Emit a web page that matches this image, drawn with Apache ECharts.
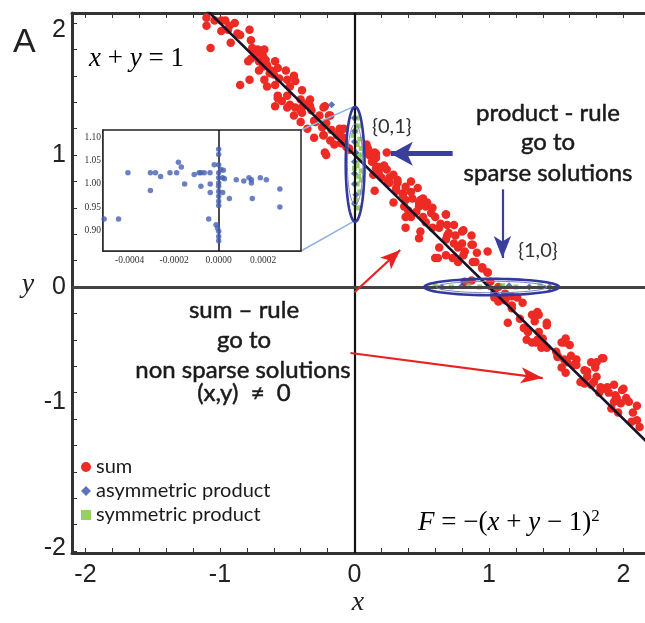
<!DOCTYPE html>
<html>
<head>
<meta charset="utf-8">
<script src="https://cdn.jsdelivr.net/npm/echarts@6/dist/echarts.min.js"></script>
<style>
  html, body { margin: 0; padding: 0; background: #fff; }
  #main { width: 645px; height: 623px; }
</style>
</head>
<body>
<div id="main"></div>
<script>
// sum rule solutions (red)
var sumPts = [
  [-1.10, 2.04], [-1.10, 1.98], [-1.04, 2.02], [-0.99, 2.02], [-0.96, 2.02], [-0.93, 1.98], [-0.89, 2.00],
  [-0.99, 1.94], [-0.94, 1.95], [-0.87, 1.92], [-0.85, 1.91], [-0.78, 1.95], [-0.77, 1.87], [-0.92, 1.85],
  [-1.07, 1.81], [-0.76, 1.81], [-0.74, 1.79], [-0.72, 1.80], [-0.70, 1.79], [-0.68, 1.75], [-0.79, 1.71],
  [-0.71, 1.71], [-0.66, 1.72], [-0.65, 1.68], [-0.59, 1.71], [-0.57, 1.66], [-0.71, 1.64], [-0.63, 1.62],
  [-0.60, 1.61], [-0.51, 1.64], [-0.67, 1.57], [-0.78, 1.57], [-0.85, 1.53], [-0.65, 1.52], [-0.59, 1.53],
  [-0.50, 1.57], [-0.45, 1.60], [-0.44, 1.56], [-0.48, 1.52], [-0.39, 1.49], [-0.57, 1.45], [-0.50, 1.45],
  [-0.54, 1.41], [-0.59, 1.37], [-0.48, 1.38], [-0.44, 1.36], [-0.39, 1.36], [-0.33, 1.42], [-0.33, 1.37],
  [-0.32, 1.34], [-0.22, 1.37], [-0.18, 1.30], [-0.74, 1.76], [-0.67, 1.80], [-0.77, 1.73], [-0.68, 1.67],
  [-0.62, 1.64], [-0.56, 1.58], [-0.40, 1.42], [-0.35, 1.39], [-0.39, 1.32], [-0.26, 1.30], [-0.23, 1.36],
  [-0.19, 1.30], [-0.29, 1.25], [-0.24, 1.21], [-0.21, 1.24], [-0.17, 1.19], [-0.13, 1.15], [-0.11, 1.20],
  [-0.23, 1.15], [-0.18, 1.11], [-0.22, 1.02], [-0.08, 1.10], [-0.06, 1.06], [-0.04, 1.05], [0.10, 1.02],
  [0.16, 1.01], [0.14, 0.95], [0.22, 0.91], [0.18, 0.87], [0.29, 0.85], [0.25, 0.80], [0.32, 0.79],
  [0.31, 0.73], [0.36, 0.71], [0.38, 0.66], [0.37, 0.61], [0.40, 0.58], [0.38, 0.53], [0.42, 0.53],
  [-0.11, 1.17], [-0.08, 1.13], [-0.10, 1.09], [-0.04, 1.04], [0.11, 1.00], [0.15, 1.02], [0.16, 0.98],
  [0.13, 0.95], [0.22, 0.92], [0.16, 0.90], [0.24, 0.89], [0.14, 0.85], [0.20, 0.83], [0.32, 0.81],
  [0.26, 0.79], [0.31, 0.75], [0.38, 0.76], [0.42, 0.72], [0.47, 0.75], [0.43, 0.67], [0.49, 0.66],
  [0.48, 0.61], [0.54, 0.64], [-0.08, 1.20], [0.10, 1.05], [0.48, 0.64], [0.53, 0.61], [0.57, 0.56],
  [0.51, 0.53], [0.60, 0.53], [0.68, 0.55], [0.64, 0.48], [0.49, 0.42], [0.58, 0.45], [0.69, 0.47],
  [0.70, 0.41], [0.75, 0.39], [0.81, 0.43], [0.68, 0.36], [0.74, 0.33], [0.63, 0.30], [0.80, 0.33],
  [0.88, 0.32], [0.82, 0.27], [0.91, 0.26], [0.73, 0.22], [0.60, 0.22], [0.77, 0.19], [0.88, 0.19],
  [0.99, 0.27], [0.95, 0.15], [0.99, 0.11], [1.01, 0.04], [1.07, 0.00], [1.04, -0.04], [1.12, -0.05],
  [1.17, -0.07], [1.21, -0.08], [0.87, 0.05], [0.82, 0.04], [1.07, -0.08], [1.12, -0.10], [1.25, -0.12],
  [1.17, -0.14], [1.36, -0.19], [1.36, -0.21], [1.23, -0.24], [1.34, -0.26], [1.43, -0.27], [1.26, -0.31],
  [1.29, -0.34], [1.28, -0.40], [1.36, -0.40], [1.40, -0.39], [1.35, -0.42], [1.41, -0.44], [1.43, -0.46],
  [1.57, -0.39], [1.54, -0.42], [1.60, -0.44], [1.50, -0.49], [1.51, -0.53], [1.56, -0.55], [1.61, -0.52],
  [1.65, -0.55], [1.54, -0.61], [1.57, -0.65], [1.63, -0.59], [1.76, -0.57], [1.84, -0.54], [1.79, -0.61],
  [1.71, -0.63], [1.73, -0.68], [1.68, -0.72], [1.71, -0.73], [1.80, -0.68], [1.78, -0.72], [1.83, -0.76],
  [1.82, -0.80], [1.88, -0.76], [1.89, -0.80], [1.94, -0.82], [1.99, -0.78], [2.02, -0.84], [1.93, -0.87],
  [1.98, -0.88], [1.91, -0.92], [1.96, -0.95], [2.04, -0.87], [2.07, -0.95], [2.10, -1.01], [2.06, -1.02],
  [2.10, -0.90], [2.12, -1.06],
  [0.15, 0.98], [0.18, 0.91], [0.24, 1.02], [0.26, 0.83], [0.29, 0.64], [0.36, 0.70], [0.38, 0.45],
  [0.42, 0.80], [0.46, 0.57], [0.51, 0.67], [0.53, 0.49], [0.58, 0.60], [0.63, 0.45], [0.68, 0.55],
  [0.69, 0.39], [0.74, 0.47], [0.80, 0.42], [0.77, 0.30], [0.81, 0.24], [0.87, 0.32], [0.90, 0.19],
  [0.95, 0.14], [0.99, 0.11], [0.62, 0.22], [0.68, 0.24], [0.87, 0.39], [0.09, 1.08], [0.15, 0.73],
  [0.48, 0.37], [1.04, -0.08], [1.07, -0.11], [1.17, -0.16], [1.14, -0.27], [1.26, -0.31], [1.32, -0.21],
  [1.37, -0.21], [1.37, -0.34], [1.43, -0.29], [1.32, -0.42], [1.39, -0.46], [1.51, -0.52], [1.56, -0.42],
  [1.58, -0.57], [1.65, -0.59], [1.73, -0.64], [1.80, -0.57], [1.85, -0.54], [1.76, -0.74], [1.85, -0.77],
  [1.93, -0.74], [2.00, -0.77], [1.95, -0.84], [-0.57, 1.43], [-0.50, 1.36], [-0.45, 1.30], [-0.40, 1.25],
  [-0.35, 1.20], [-0.30, 1.13], [-0.21, 1.00], [-0.15, 1.08], [-0.11, 1.15], [-0.23, 1.15], [-0.30, 1.26],
  [-0.40, 1.34]
];

// asymmetric product solutions (blue)
var asymPts = [
  [-0.17, 1.38], [0.00, 1.28], [0.00, 1.18], [0.00, 1.10], [0.01, 1.02], [0.00, 0.95], [0.00, 0.86],
  [0.00, 0.78], [0.01, 0.70], [0.00, 0.63], [0.65, 0.00], [0.80, 0.01], [1.00, 0.00], [1.15, 0.01],
  [1.30, 0.00], [1.45, 0.00]
];

// symmetric product solutions (green)
var symPts = [
  [0.02, 1.28], [0.03, 1.22], [0.01, 1.18], [0.04, 1.12], [0.02, 1.08], [0.05, 1.05], [0.03, 1.00],
  [0.04, 0.96], [0.02, 0.92], [0.05, 0.88], [0.03, 0.84], [0.02, 0.78], [0.04, 0.72], [0.01, 0.66],
  [0.03, 0.60], [-0.01, 1.15], [0.00, 0.90], [0.06, 1.00], [0.05, 0.81],
  [0.60, 0.01], [0.72, 0.00], [0.85, 0.01], [0.93, 0.00], [1.10, 0.01], [1.20, 0.00], [1.38, 0.01]
];

// inset: zoom around {0,1}
var insetPts = [
  [-0.000515, 0.925], [-0.00045, 0.925], [-0.000408, 1.024], [-0.000307, 1.024], [-0.000284, 1.024],
  [-0.000261, 1.016], [-0.000307, 0.986], [-0.000219, 1.024], [-0.000189, 1.024], [-0.000181, 1.046],
  [-0.000168, 1.036], [-0.000153, 1.000], [-0.00011, 1.020], [-0.000088, 1.024], [-0.00008, 1.024],
  [-0.00008, 0.995], [-0.000065, 1.024], [-0.000039, 1.024], [-0.000038, 1.000], [-0.000038, 0.982],
  [-0.000045, 0.925], [-0.00002, 1.041], [-0.000012, 0.913], [-0.000005, 0.906],
  [0, 1.074], [0, 1.063], [0, 1.041], [0, 1.024], [0, 1.013], [0, 1.002], [0, 0.995], [0, 0.984],
  [0, 0.974], [0, 0.963], [0, 0.954], [0, 0.899], [0, 0.888], [0, 0.879],
  [0.00001, 1.031], [0.000018, 1.013], [0.000018, 0.982], [0.000021, 1.029], [0.000026, 1.011],
  [0.000048, 0.969], [0.000079, 1.009], [0.000113, 1.006], [0.000136, 1.013], [0.000147, 1.009],
  [0.000151, 0.969], [0.000147, 1.002], [0.000187, 1.013], [0.000214, 1.009], [0.000275, 0.989],
  [0.000275, 0.951]
];

// the line x + y = 1
var lineX = [-1.16, 2.18];
var lineY = [2.16, -1.18];

// ticks (the y labels sit a little off their ticks in the original figure)
var xLabels = [-2, -1, 0, 1, 2];
var yLabelPos = [-1.98, -0.87, 0, 1, 1.95];
var xMinor = [-2, -1.8, -1.6, -1.4, -1.2, -1, -0.8, -0.6, -0.4, -0.2, 0, 0.2, 0.4, 0.6, 0.8, 1, 1.2, 1.4, 1.6, 1.8, 2];
var yMinor = [-2, -1.8, -1.6, -1.4, -1.2, -1, -0.8, -0.6, -0.4, -0.2, 0, 0.2, 0.4, 0.6, 0.8, 1, 1.2, 1.4, 1.6, 1.8, 2];
var insetXLabels = [-0.0004, -0.0002, 0, 0.0002];
var insetYLabels = [0.90, 0.95, 1.00, 1.05, 1.10];

// ellipses around {0,1} and {1,0}: [cx, cy, rx, ry]
var ellipses = [[0.005, 0.93, 0.07, 0.435], [1.02, 0.0, 0.5, 0.062]];

var chart = echarts.init(document.getElementById('main'), null, { renderer: 'canvas' });

var SANS = 'Liberation Sans';
var SERIF = 'Liberation Serif';
var noteFont = 'Lato';

function lineData() {
  return lineX.map(function (x, i) { return [x, lineY[i]]; });
}

function ellipseItem(params, api) {
  var c = api.coord([api.value(0), api.value(1)]);
  var s = api.size([api.value(2), api.value(3)]);
  var outer = [], inner = [];
  for (var k = 0; k <= 72; k++) {
    var a = k / 72 * Math.PI * 2;
    outer.push([c[0] + s[0] * Math.cos(a), c[1] + s[1] * Math.sin(a)]);
    inner.push([c[0] + s[0] * 0.82 * Math.cos(a), c[1] + s[1] * 0.7 * Math.sin(a)]);
  }
  return {
    type: 'group',
    children: [
      { type: 'polyline', shape: { points: outer }, style: { stroke: '#33399a', lineWidth: 2.6, fill: null } },
      { type: 'polyline', shape: { points: inner }, style: { stroke: '#7a82c8', lineWidth: 1, fill: null } }
    ]
  };
}

var axisLbl = { fontSize: 25, color: '#222', fontFamily: SANS };

var option = {
  animation: false,
  backgroundColor: '#fff',
  grid: [
    { left: 72, top: 13, width: 580, height: 540, show: false },
    { left: 103, top: 130, width: 198, height: 121, show: true, backgroundColor: '#fff', borderColor: '#222', borderWidth: 1.5, z: 5 }
  ],
  xAxis: [
    {
      type: 'value', gridIndex: 0, min: -2.1, max: 2.16, position: 'bottom',
      axisLine: { show: true, onZero: false, lineStyle: { color: '#333', width: 3 } },
      axisTick: { show: true, inside: true, length: 5, customValues: xMinor, lineStyle: { color: '#333' } },
      axisLabel: Object.assign({ customValues: xLabels, margin: 10 }, axisLbl),
      splitLine: { show: false }
    },
    {
      type: 'value', gridIndex: 0, min: -2.1, max: 2.16, position: 'top',
      axisLine: { show: true, onZero: false, lineStyle: { color: '#333', width: 3 } },
      axisTick: { show: true, inside: true, length: 5, customValues: xMinor, lineStyle: { color: '#333' } },
      axisLabel: { show: false },
      splitLine: { show: false }
    },
    {
      type: 'value', gridIndex: 1, min: -0.00052, max: 0.00037,
      axisLine: { show: true, onZero: false, lineStyle: { color: '#222', width: 1.5 } },
      axisTick: { show: true, inside: true, length: 3, customValues: insetXLabels, lineStyle: { color: '#222' } },
      axisLabel: {
        customValues: insetXLabels, fontSize: 9.5, color: '#333', fontFamily: SERIF, margin: 4,
        formatter: function (v) { return v.toFixed(4); }
      },
      splitLine: { show: false }
    }
  ],
  yAxis: [
    {
      type: 'value', gridIndex: 0, min: -2.015, max: 2.076, position: 'left',
      axisLine: { show: true, onZero: false, lineStyle: { color: '#333', width: 3 } },
      axisTick: { show: true, inside: true, length: 5, customValues: yMinor, lineStyle: { color: '#333' } },
      axisLabel: Object.assign({
        customValues: yLabelPos, margin: 6,
        formatter: function (v) { return String(Math.round(v)); }
      }, axisLbl),
      splitLine: { show: false }
    },
    {
      type: 'value', gridIndex: 1, min: 0.857, max: 1.115,
      axisLine: { show: true, onZero: false, lineStyle: { color: '#222', width: 1.5 } },
      axisTick: { show: true, inside: true, length: 3, customValues: insetYLabels, lineStyle: { color: '#222' } },
      axisLabel: {
        customValues: insetYLabels, fontSize: 9.5, color: '#333', fontFamily: SERIF, margin: 2,
        formatter: function (v) { return v.toFixed(2); }
      },
      splitLine: { show: false }
    }
  ],
  legend: {
    orient: 'vertical', left: 76, top: 452, itemGap: 4, itemWidth: 10, itemHeight: 10,
    textStyle: { fontSize: 20, color: '#1a1a1a', fontFamily: noteFont },
    data: [
      { name: 'sum', icon: 'circle', itemStyle: { color: '#ee2a24' } },
      { name: 'asymmetric product', icon: 'diamond', itemStyle: { color: '#3650a8' } },
      { name: 'symmetric product', icon: 'rect', itemStyle: { color: '#7cc242' } }
    ]
  },
  series: [
    {
      name: 'sum', type: 'scatter', xAxisIndex: 0, yAxisIndex: 0,
      symbol: 'circle', symbolSize: 8.5, itemStyle: { color: '#ee2a24', opacity: 1 },
      data: sumPts, z: 2
    },
    {
      name: 'symmetric product', type: 'scatter', xAxisIndex: 0, yAxisIndex: 0,
      symbol: 'rect', symbolSize: 5, itemStyle: { color: '#7cc242' },
      data: symPts, z: 3
    },
    {
      name: 'asymmetric product', type: 'scatter', xAxisIndex: 0, yAxisIndex: 0,
      symbol: 'diamond', symbolSize: 7, itemStyle: { color: '#3650a8' },
      data: asymPts, z: 3
    },
    {
      name: 'x+y=1', type: 'line', xAxisIndex: 0, yAxisIndex: 0,
      data: lineData(), symbol: 'none', clip: true,
      lineStyle: { color: '#141428', width: 2.6 }, z: 4,
      markLine: {
        silent: true, symbol: 'none', label: { show: false },
        data: [
          { xAxis: 0, lineStyle: { color: '#111', width: 2.2, type: 'solid' } },
          { yAxis: 0, lineStyle: { color: '#444', width: 3, type: 'solid' } }
        ]
      }
    },
    {
      name: 'ellipses', type: 'custom', xAxisIndex: 0, yAxisIndex: 0,
      renderItem: ellipseItem, data: ellipses, z: 6, silent: true
    },
    {
      name: 'arrows', type: 'line', xAxisIndex: 0, yAxisIndex: 0, data: [], z: 7,
      markLine: {
        silent: true, label: { show: false }, symbol: ['none', 'arrow'],
        data: [
          [{ coord: [0.73, 1.01], lineStyle: { color: '#3a3f9c', width: 5, type: 'solid' } },
           { coord: [0.27, 1.01], symbolSize: [18, 22] }],
          [{ coord: [1.10, 0.74], lineStyle: { color: '#3a3f9c', width: 2.2, type: 'solid' } },
           { coord: [1.10, 0.22], symbolSize: [13, 22] }],
          [{ coord: [0.0, -0.04], lineStyle: { color: '#e8221f', width: 2.2, type: 'solid' } },
           { coord: [0.34, 0.28], symbolSize: [12, 20] }],
          [{ coord: [-0.03, -0.50], lineStyle: { color: '#e8221f', width: 2.2, type: 'solid' } },
           { coord: [1.40, -0.69], symbolSize: [12, 22] }]
        ]
      }
    },
    {
      name: 'inset', type: 'scatter', xAxisIndex: 2, yAxisIndex: 1,
      symbol: 'circle', symbolSize: 5.5, itemStyle: { color: '#4560b4' },
      data: insetPts, z: 8,
      markLine: {
        silent: true, symbol: 'none', label: { show: false },
        data: [{ xAxis: 0, lineStyle: { color: '#111', width: 1.5, type: 'solid' } }]
      }
    }
  ]
};

chart.setOption(option);

// annotations
var mathRich = {
  i: { fontFamily: SERIF, fontStyle: 'italic', fontSize: 27, color: '#222', lineHeight: 30 },
  r: { fontFamily: SERIF, fontSize: 27, color: '#222', lineHeight: 30 },
  s: { fontFamily: SERIF, fontSize: 17, color: '#222', lineHeight: 30, verticalAlign: 'top' }
};
var noteStyle = {
  fontFamily: noteFont, fontSize: 24, fill: '#1a1a1a', stroke: '#1a1a1a', lineWidth: 0.5,
  textAlign: 'center', textVerticalAlign: 'middle'
};

function note(text, x, y) {
  return { type: 'text', x: x, y: y, z: 20, style: Object.assign({ text: text }, noteStyle) };
}

var topE = chart.convertToPixel({ gridIndex: 0 }, [ellipses[0][0], ellipses[0][1] + ellipses[0][3]]);
var botE = chart.convertToPixel({ gridIndex: 0 }, [ellipses[0][0], ellipses[0][1] - ellipses[0][3]]);

chart.setOption({
  graphic: [
    { type: 'line', z: 4, shape: { x1: 301, y1: 130, x2: topE[0] - 2, y2: topE[1] }, style: { stroke: '#8db3e2', lineWidth: 1.5 } },
    { type: 'line', z: 4, shape: { x1: 301, y1: 251, x2: botE[0] - 2, y2: botE[1] }, style: { stroke: '#8db3e2', lineWidth: 1.5 } },
    { type: 'text', x: 13, y: 26, z: 20, style: { text: 'A', fontFamily: SANS, fontSize: 34, fill: '#222' } },
    { type: 'text', x: 28, y: 285, z: 20, style: { text: 'y', fontFamily: SERIF, fontStyle: 'italic', fontSize: 28, fill: '#222', textAlign: 'center', textVerticalAlign: 'middle' } },
    { type: 'text', x: 358, y: 603, z: 20, style: { text: 'x', fontFamily: SERIF, fontStyle: 'italic', fontSize: 28, fill: '#222', textAlign: 'center', textVerticalAlign: 'middle' } },
    { type: 'text', x: 89, y: 44, z: 20, style: { text: '{i|x}{r| + }{i|y}{r| = 1}', rich: mathRich } },
    { type: 'text', x: 418, y: 508, z: 20, style: { text: '{i|F}{r| = −(}{i|x}{r| + }{i|y}{r| − 1)}{s|2}', rich: mathRich } },
    { type: 'text', x: 372, y: 117, z: 20, style: { text: '{0,1}', fontFamily: noteFont, fontSize: 20, fill: '#333' } },
    { type: 'text', x: 518, y: 241, z: 20, style: { text: '{1,0}', fontFamily: noteFont, fontSize: 20, fill: '#333' } },
    note('product - rule', 548, 113),
    note('go to', 548, 142),
    note('sparse solutions', 548, 173),
    note('sum \u2013 rule', 244, 310),
    note('go to', 244, 340),
    note('non sparse solutions', 243, 370),
    note('(x,y)  \u2260  0', 244, 393)
  ]
});
</script>
</body>
</html>
